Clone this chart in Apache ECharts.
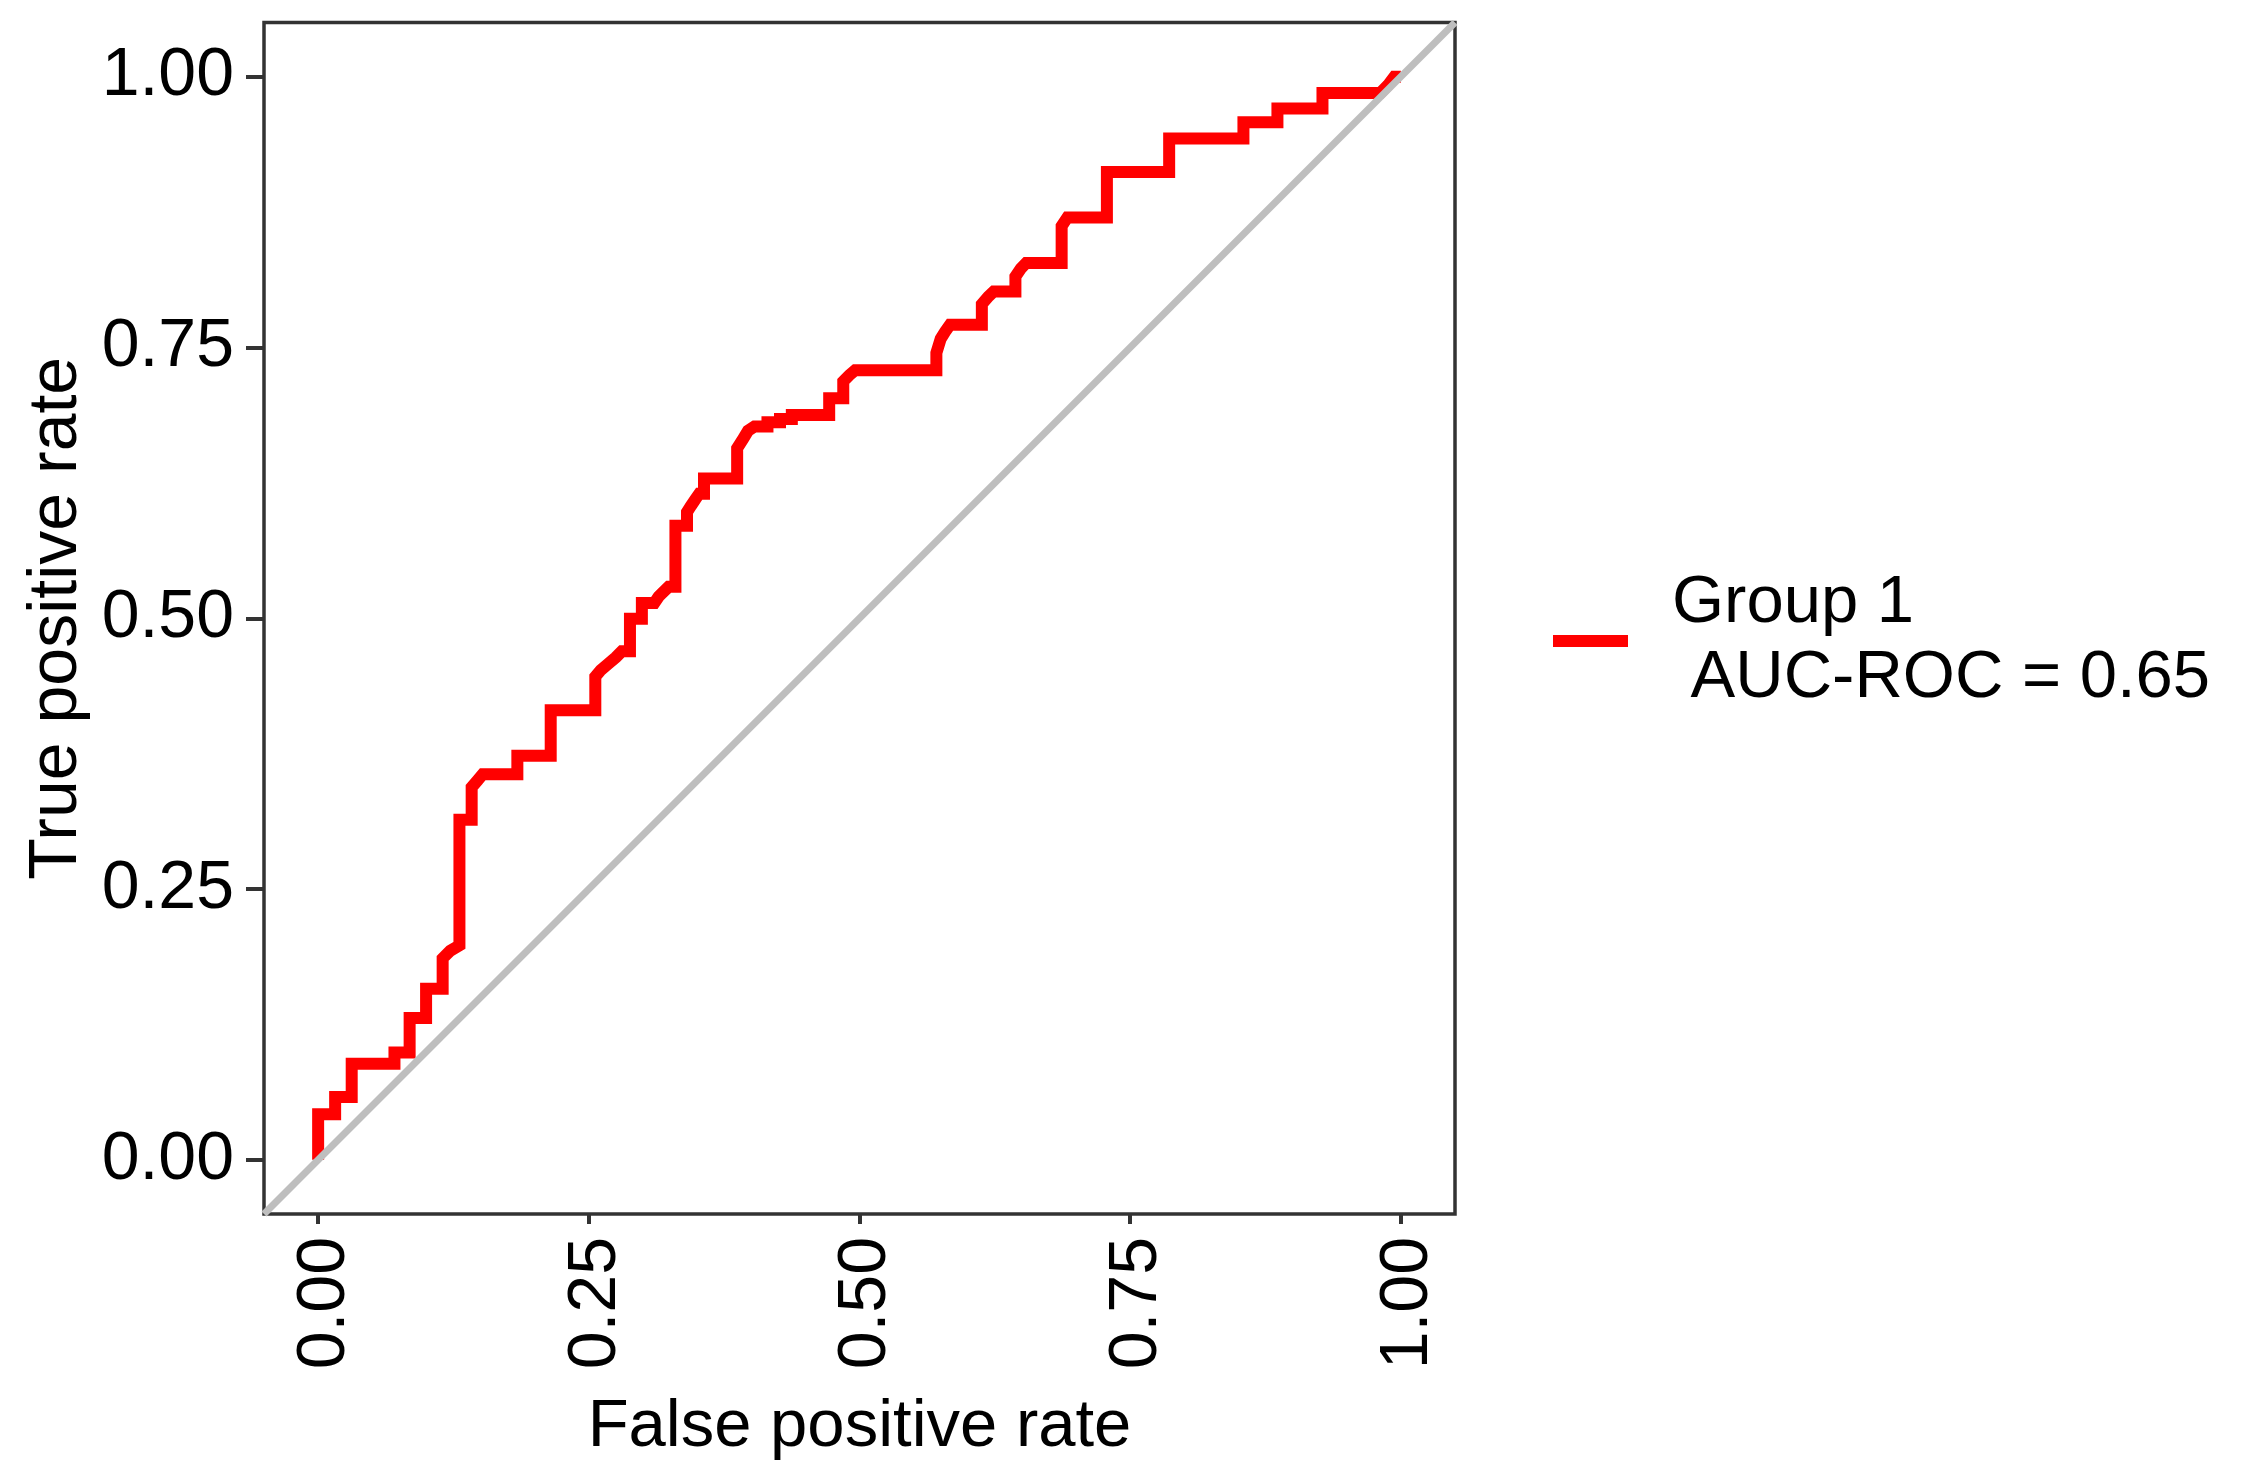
<!DOCTYPE html>
<html>
<head>
<meta charset="utf-8">
<script src="https://cdn.jsdelivr.net/npm/echarts@6/dist/echarts.min.js"></script>
<style>
html,body{margin:0;padding:0;background:#fff;}
#chart{width:2246px;height:1475px;}
</style>
</head>
<body>
<div id="chart"></div>
<script>
// ROC curve vertices (false positive rate, true positive rate)
var fpr = [0, 0, 0.0157, 0.0157, 0.031, 0.031, 0.0705, 0.0705, 0.0845, 0.0845, 0.0997, 0.0997,
  0.115, 0.115, 0.122, 0.1305, 0.1305, 0.1418, 0.1418, 0.147, 0.152, 0.184, 0.184, 0.2148, 0.2148,
  0.256, 0.256, 0.261, 0.268, 0.275, 0.2805, 0.288, 0.288, 0.299, 0.299, 0.3105, 0.3145, 0.319, 0.3237,
  0.33, 0.33, 0.3407, 0.3407, 0.3445, 0.3485, 0.352, 0.3564, 0.3564, 0.387, 0.387, 0.3926, 0.397, 0.403,
  0.415, 0.415, 0.4266, 0.4266, 0.4375, 0.4375, 0.472, 0.472, 0.485, 0.485, 0.4905, 0.496,
  0.571, 0.571, 0.575, 0.579, 0.5836, 0.613, 0.613, 0.619, 0.624, 0.644, 0.644, 0.649, 0.654,
  0.6867, 0.6867, 0.692, 0.7285, 0.7285, 0.786, 0.786, 0.8546, 0.8546, 0.886, 0.886, 0.9276, 0.9276,
  0.981, 0.988, 0.994, 1.0];
var tpr = [0, 0.042, 0.042, 0.058, 0.058, 0.0886, 0.0886, 0.099, 0.099, 0.131, 0.131, 0.158,
  0.158, 0.186, 0.193, 0.198, 0.314, 0.314, 0.344, 0.350, 0.356, 0.356, 0.373, 0.373, 0.415,
  0.415, 0.446, 0.452, 0.458, 0.464, 0.4696, 0.4696, 0.4995, 0.4995, 0.514, 0.514, 0.520, 0.5245, 0.529,
  0.529, 0.5855, 0.5855, 0.598, 0.604, 0.610, 0.615, 0.615, 0.629, 0.629, 0.657, 0.6658, 0.673, 0.677,
  0.677, 0.681, 0.681, 0.684, 0.684, 0.6877, 0.6877, 0.703, 0.703, 0.7187, 0.7243, 0.729,
  0.729, 0.745, 0.758, 0.7645, 0.771, 0.771, 0.79, 0.797, 0.8017, 0.8017, 0.8155, 0.8228, 0.828,
  0.828, 0.862, 0.870, 0.870, 0.912, 0.912, 0.943, 0.943, 0.958, 0.958, 0.9705, 0.9705, 0.9849,
  0.9849, 0.992, 1.0, 1.0];
// chance diagonal (spans the whole panel, like abline)
var diagX = [-0.05, 1.05];
var diagY = [-0.05, 1.05];
// tick values and labels
var tickValues = [0, 0.25, 0.5, 0.75, 1];
var tickLabels = ['0.00', '0.25', '0.50', '0.75', '1.00'];
var seriesName = 'Group 1\n AUC-ROC = 0.65';
var xTitle = 'False positive rate';
var yTitle = 'True positive rate';

var rocData = fpr.map(function (x, i) { return [x, tpr[i]]; });
var diagData = diagX.map(function (x, i) { return [x, diagY[i]]; });
function fmt(v) {
  for (var i = 0; i < tickValues.length; i++) {
    if (Math.abs(tickValues[i] - v) < 1e-9) return tickLabels[i];
  }
  return '';
}
var FONT = 'Liberation Sans';
var chart = echarts.init(document.getElementById('chart'), null, { renderer: 'canvas' });
chart.setOption({
  animation: false,
  backgroundColor: '#ffffff',
  textStyle: { fontFamily: FONT },
  grid: {
    left: 264, top: 22.5, width: 1191, height: 1191.5,
    show: true, borderColor: '#333333', borderWidth: 3.5, backgroundColor: '#ffffff',
    containLabel: false
  },
  legend: {
    left: 1553, top: 566, orient: 'vertical', padding: 0,
    itemWidth: 75, itemHeight: 12, icon: 'rect',
    textStyle: { fontFamily: FONT, fontSize: 67, lineHeight: 75, color: '#000000', padding: [0, 0, 0, 39] },
    data: [{ name: seriesName, itemStyle: { color: '#ff0000' } }]
  },
  xAxis: {
    type: 'value', min: -0.05, max: 1.05,
    name: xTitle, nameLocation: 'middle', nameGap: 180,
    nameTextStyle: { fontFamily: FONT, fontSize: 67, color: '#000000' },
    axisLine: { show: false, onZero: false },
    splitLine: { show: false },
    axisTick: { show: true, customValues: tickValues, length: 10, lineStyle: { color: '#333333', width: 4 } },
    axisLabel: { customValues: tickValues, formatter: fmt, rotate: 90, margin: 23,
      verticalAlign: 'top', lineHeight: 14,
      fontFamily: FONT, fontSize: 68, color: '#000000' }
  },
  yAxis: {
    type: 'value', min: -0.05, max: 1.05,
    name: yTitle, nameLocation: 'middle', nameGap: 166, nameRotate: 90,
    nameTextStyle: { fontFamily: FONT, fontSize: 68, color: '#000000' },
    axisLine: { show: false, onZero: false },
    splitLine: { show: false },
    axisTick: { show: true, customValues: tickValues, length: 18, lineStyle: { color: '#333333', width: 4 } },
    axisLabel: { customValues: tickValues, formatter: fmt, margin: 30,
      fontFamily: FONT, fontSize: 68, color: '#000000' }
  },
  series: [
    {
      name: seriesName, type: 'line', data: rocData, showSymbol: false, symbol: 'none',
      lineStyle: { color: '#ff0000', width: 12, join: 'miter', cap: 'butt' },
      itemStyle: { color: '#ff0000' }, z: 2, silent: true
    },
    {
      name: 'chance', type: 'line', data: diagData, showSymbol: false, symbol: 'none',
      lineStyle: { color: '#bebebe', width: 7 }, itemStyle: { color: '#bebebe' }, z: 3, silent: true
    }
  ]
});
</script>
</body>
</html>
